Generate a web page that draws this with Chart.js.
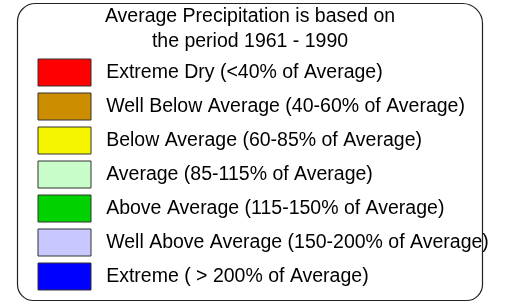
<!DOCTYPE html>
<html>
<head>
<meta charset="utf-8">
<script src="https://cdn.jsdelivr.net/npm/chart.js@4/dist/chart.umd.min.js"></script>
<style>
  html, body { margin: 0; padding: 0; background: #ffffff; }
  #wrap { width: 505px; height: 304px; position: relative; }
</style>
</head>
<body>
<div id="wrap"><canvas id="c" width="505" height="304"></canvas></div>
<script>
const titleLines = ['Average Precipitation is based on', 'the period 1961 - 1990'];
const categories = [
  'Extreme Dry (<40% of Average)',
  'Well Below Average (40-60% of Average)',
  'Below Average (60-85% of Average)',
  'Average (85-115% of Average)',
  'Above Average (115-150% of Average)',
  'Well Above Average (150-200% of Average)',
  'Extreme ( > 200% of Average)'
];
const swatchColors = ['#ff0000', '#cc8e00', '#f5f500', '#c8fcc8', '#00d200', '#c8c8ff', '#0000ff'];

const FONT = 'Liberation Sans, Arial, sans-serif';
const FS = 19.5;

const frame = {
  id: 'frame',
  beforeDraw(chart) {
    const ctx = chart.ctx;
    const l = 17.5, t = 3.5, r = 482.5, b = 300.5;
    const rtl = 18, rtr = 20, rbr = 16, rbl = 16;
    ctx.save();
    ctx.fillStyle = '#ffffff';
    ctx.fillRect(0, 0, chart.width, chart.height);
    ctx.beginPath();
    ctx.moveTo(l + rtl, t);
    ctx.lineTo(r - rtr, t);
    ctx.arcTo(r, t, r, t + rtr, rtr);
    ctx.lineTo(r, b - rbr);
    ctx.arcTo(r, b, r - rbr, b, rbr);
    ctx.lineTo(l + rbl, b);
    ctx.arcTo(l, b, l, b - rbl, rbl);
    ctx.lineTo(l, t + rtl);
    ctx.arcTo(l, t, l + rtl, t, rtl);
    ctx.closePath();
    ctx.strokeStyle = '#222222';
    ctx.lineWidth = 1.2;
    ctx.stroke();
    ctx.restore();
  }
};

new Chart(document.getElementById('c'), {
  type: 'bar',
  data: {
    labels: [],
    datasets: categories.map((name, i) => ({
      label: name,
      data: [],
      backgroundColor: swatchColors[i],
      borderColor: '#333333',
      borderWidth: 1
    }))
  },
  options: {
    responsive: false,
    animation: false,
    events: [],
    layout: { padding: { left: 31, right: 36, top: 0, bottom: 0 } },
    scales: { x: { display: false }, y: { display: false } },
    plugins: {
      tooltip: { enabled: false },
      title: {
        display: true,
        fullSize: true,
        text: titleLines,
        color: '#000000',
        font: { family: FONT, size: FS, weight: 'normal', lineHeight: 25 / FS },
        padding: { top: 4, bottom: -2 }
      },
      legend: {
        display: true,
        position: 'left',
        align: 'start',
        fullSize: false,
        maxWidth: 480,
        labels: {
          boxWidth: 53,
          boxHeight: 27,
          padding: 7,
          color: '#000000',
          font: { family: FONT, size: FS },
          generateLabels(chart) {
            return chart.data.datasets.map((ds, i) => ({
              text: ' ' + ds.label,
              fillStyle: ds.backgroundColor,
              strokeStyle: ds.borderColor,
              lineWidth: ds.borderWidth,
              hidden: false,
              datasetIndex: i
            }));
          }
        }
      }
    }
  },
  plugins: [frame]
});
</script>
</body>
</html>
